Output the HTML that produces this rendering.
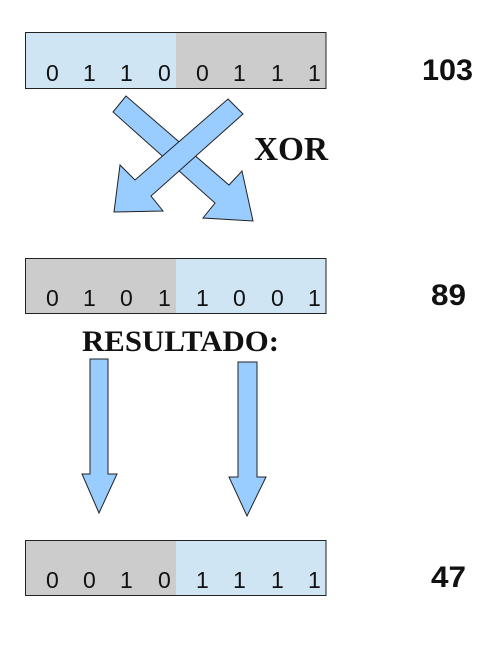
<!DOCTYPE html>
<html><head><meta charset="utf-8"><style>
body{margin:0;background:#fff;width:501px;height:654px;overflow:hidden}
svg{display:block}
</style></head><body>
<svg width="501" height="654" xmlns="http://www.w3.org/2000/svg">
<g font-family="Liberation Sans, sans-serif" font-size="23" fill="#111">
<rect x="25.5" y="32.5" width="151" height="56" fill="#cfe5f3"/>
<rect x="176" y="32.5" width="150" height="56" fill="#cccccc"/>
<rect x="25.5" y="32.5" width="300.5" height="56" fill="none" stroke="#222"/>
<text y="81"><tspan x="46">0</tspan><tspan x="83">1</tspan><tspan x="120">1</tspan><tspan x="158">0</tspan><tspan x="196">0</tspan><tspan x="233">1</tspan><tspan x="271">1</tspan><tspan x="308">1</tspan></text>

<rect x="25.5" y="258.5" width="151" height="55" fill="#cccccc"/>
<rect x="176" y="258.5" width="150" height="55" fill="#cfe5f3"/>
<rect x="25.5" y="258.5" width="300.5" height="55" fill="none" stroke="#222"/>
<text y="306"><tspan x="46">0</tspan><tspan x="83">1</tspan><tspan x="120">0</tspan><tspan x="158">1</tspan><tspan x="196">1</tspan><tspan x="233">0</tspan><tspan x="271">0</tspan><tspan x="308">1</tspan></text>

<rect x="25.5" y="540.5" width="151" height="55" fill="#cccccc"/>
<rect x="176" y="540.5" width="150" height="55" fill="#cfe5f3"/>
<rect x="25.5" y="540.5" width="300.5" height="55" fill="none" stroke="#222"/>
<text y="588"><tspan x="46">0</tspan><tspan x="83">0</tspan><tspan x="120">1</tspan><tspan x="158">0</tspan><tspan x="196">1</tspan><tspan x="233">1</tspan><tspan x="271">1</tspan><tspan x="308">1</tspan></text>
</g>
<g fill="#99ccff" stroke="#222" stroke-width="1">
<polygon points="126,96 229,185 242,171 253,221 203,218 215,203 113,112"/>
<polygon points="228,99 243,114 151,196 163,211 114,212 120,165 135,180"/>
<polygon points="90,359 108,359 108,474 117,474 99,513 82,474 90,474"/>
<polygon points="238,362 257,362 257,477 266,477 247,516 229,477 238,477"/>
</g>
<g font-family="Liberation Serif, serif" font-weight="bold" fill="#111">
<text x="254" y="160" font-size="34" textLength="74" lengthAdjust="spacingAndGlyphs">XOR</text>
<text x="82" y="351" font-size="30" textLength="197" lengthAdjust="spacingAndGlyphs">RESULTADO:</text>
</g>
<g font-family="Liberation Sans, sans-serif" font-weight="bold" font-size="30" fill="#111">
<text x="422" y="80" textLength="51" lengthAdjust="spacingAndGlyphs">103</text>
<text x="431" y="305" textLength="35" lengthAdjust="spacingAndGlyphs">89</text>
<text x="431" y="587" textLength="35" lengthAdjust="spacingAndGlyphs">47</text>
</g>
</svg>
</body></html>
